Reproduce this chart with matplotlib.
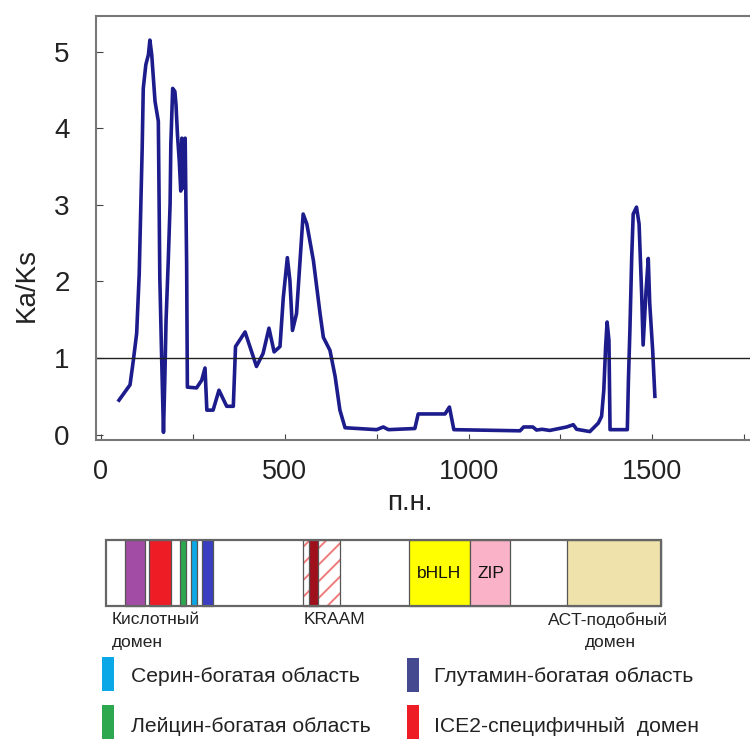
import matplotlib.pyplot as plt
import matplotlib.patches as mpatches

# Ka/Ks along the sequence (sliding window)
pos_bp = [49, 79, 88, 97, 104, 108, 112, 115, 122, 129, 133, 138, 147, 156, 158, 160,
          165, 170, 174, 177, 183, 188, 190, 195, 201, 204, 208, 213, 217, 220, 224, 229,
          233, 235, 260, 274, 283, 288, 305, 321, 342, 360, 366, 392, 423, 441, 457, 471,
          487, 496, 507, 514, 521, 532, 541, 550, 560, 578, 596, 605, 623, 637, 650, 664,
          750, 768, 782, 854, 863, 936, 948, 960, 1140, 1150, 1175, 1185, 1200, 1221, 1267,
          1285, 1294, 1330, 1353, 1362, 1368, 1373, 1377, 1382, 1385, 1432, 1435, 1439,
          1444, 1448, 1457, 1464, 1471, 1475, 1483, 1489, 1493, 1501, 1507]
ka_ks = [0.45, 0.65, 0.97, 1.32, 2.1, 2.92, 3.73, 4.52, 4.83, 4.96, 5.15, 4.96, 4.35, 4.09,
         3.09, 2.05, 1.01, 0.03, 0.8, 1.49, 2.27, 3.01, 3.79, 4.52, 4.48, 4.31, 3.92, 3.57,
         3.18, 3.87, 3.22, 3.87, 2.23, 0.62, 0.61, 0.71, 0.87, 0.32, 0.32, 0.58, 0.37, 0.37,
         1.15, 1.34, 0.89, 1.06, 1.39, 1.08, 1.15, 1.79, 2.31, 2.01, 1.36, 1.58, 2.23, 2.88,
         2.75, 2.27, 1.58, 1.27, 1.1, 0.76, 0.32, 0.09, 0.065, 0.1, 0.065, 0.08, 0.27, 0.27,
         0.36, 0.065, 0.05, 0.1, 0.1, 0.06, 0.07, 0.055, 0.1, 0.13, 0.07, 0.04, 0.15, 0.24,
         0.58, 1.15, 1.47, 1.23, 0.065, 0.065, 0.71, 1.36, 2.32, 2.88, 2.97, 2.75, 1.84,
         1.17, 1.88, 2.3, 1.71, 1.1, 0.5]

x_ticks = [0, 250, 500, 750, 1000, 1250, 1500, 1750]
x_ticklabels = ['0', '', '500', '', '1000', '', '1500', '']
y_ticks = [0, 1, 2, 3, 4, 5]

# protein domain map (bp)
gene_start, gene_end = 14, 1523
dom_start = [65, 131, 216, 245, 276, 550, 567, 838, 1005, 1268]
dom_end = [120, 190, 230, 261, 305, 650, 590, 1005, 1114, 1523]
dom_color = ['#a24ca6', '#ee1c25', '#2ea84e', '#0aa8e6', '#3a3ec0',
             'white', '#a0101c', '#ffff00', '#f9b2c8', '#efe2ab']
dom_hatch = ['', '', '', '', '', '//', '', '', '', '']

legend_labels = ['Серин-богатая область', 'Глутамин-богатая область',
                 'Лейцин-богатая область', 'ICE2-специфичный  домен']
legend_colors = ['#0aa8e6', '#454a90', '#2ea84e', '#ee1c25']

plt.rcParams['font.family'] = ['Liberation Sans', 'DejaVu Sans']
plt.rcParams['hatch.linewidth'] = 1.4
txt_col = '#222222'

W, H = 750, 740
fig = plt.figure(figsize=(7.5, 7.4), dpi=100)

# main Ka/Ks plot
ax = fig.add_axes([96 / W, 1 - 440 / H, 664 / W, 424 / H])
ax.plot(pos_bp, ka_ks, color='#1c1c8c', lw=2.6)
ax.axhline(1, color='#222222', lw=1.0)
ax.set_xlim(-13.6, 1793)
ax.set_ylim(-0.07, 5.465)
ax.set_xticks(x_ticks)
ax.set_xticklabels(x_ticklabels, fontsize=19.5, color=txt_col)
ax.set_yticks(y_ticks)
ax.set_yticklabels([str(v) for v in y_ticks], fontsize=20, color=txt_col)
ax.tick_params(axis='x', direction='in', length=4, pad=14, color='#444444')
ax.tick_params(axis='y', direction='in', length=5, pad=19, color='#444444')
for s in ax.spines.values():
    s.set_color('#777777')
    s.set_linewidth(1.5)
ax.text((27 - 96) / 664, (440 - 285) / 424, 'Ka/Ks', transform=ax.transAxes, rotation=90,
        ha='center', va='center', fontsize=20, color=txt_col)
ax.text((410 - 96) / 664, (440 - 503) / 424, 'п.н.', transform=ax.transAxes,
        ha='center', va='center', fontsize=20, color=txt_col)

# domain bar
axd = fig.add_axes([96 / W, 1 - 606 / H, 664 / W, 66 / H])
axd.set_xlim(-13.6, 1793)
axd.set_ylim(0, 1)
axd.axis('off')
for a, b, c, h in zip(dom_start, dom_end, dom_color, dom_hatch):
    if h:
        # hatch takes the edge colour, so draw the outline separately
        axd.add_patch(mpatches.Rectangle((a, 0), b - a, 1, facecolor=c, hatch=h,
                                         edgecolor='#f07a7a', lw=0, clip_on=False))
    axd.add_patch(mpatches.Rectangle((a, 0), b - a, 1, facecolor='none' if h else c,
                                     edgecolor='#555555', lw=0.9, clip_on=False))
axd.add_patch(mpatches.Rectangle((gene_start, 0), gene_end - gene_start, 1, facecolor='none',
                                 edgecolor='#666666', lw=1.6, clip_on=False))
axd.text(921, 0.5, 'bHLH', ha='center', va='center', fontsize=12.5, color='#111111')
axd.text(1060, 0.5, 'ZIP', ha='center', va='center', fontsize=12.5, color='#111111')
axd.text(30, -0.21, 'Кислотный', ha='left', va='center', fontsize=12.5, color=txt_col)
axd.text(30, -0.55, 'домен', ha='left', va='center', fontsize=12.5, color=txt_col)
axd.text(552, -0.21, 'KRAAM', ha='left', va='center', fontsize=12.5, color=txt_col)
axd.text(1216, -0.21, 'ACT-подобный', ha='left', va='center', fontsize=12.5, color=txt_col)
axd.text(1387, -0.55, 'домен', ha='center', va='center', fontsize=12.5, color=txt_col)

# legend drawn as colored bars with labels
bar_x = [102, 407, 102, 407]
bar_y = [657, 658, 705, 705]
text_x = [131, 434, 131, 434]
text_y = [677, 677, 726, 726]
for lab, col, bx, by, tx, ty in zip(legend_labels, legend_colors, bar_x, bar_y, text_x, text_y):
    fig.add_artist(mpatches.Rectangle((bx / W, 1 - (by + 34) / H), 12 / W, 34 / H,
                                      facecolor=col, edgecolor='none',
                                      transform=fig.transFigure))
    fig.text(tx / W, 1 - ty / H, lab, ha='left', va='center', fontsize=15.2, color=txt_col)

fig.savefig('out.png', dpi=100)
